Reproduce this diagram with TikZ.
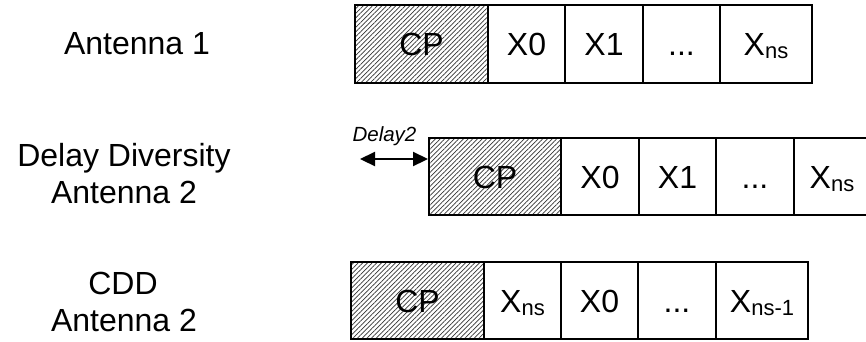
\documentclass[tikz,border=0pt]{standalone}
\usepackage{fontspec}
\setmainfont{Liberation Sans}
\usetikzlibrary{patterns.meta,arrows.meta}
% lowered, smaller subscript set in text font
\newcommand\subidx[1]{\raisebox{-3pt}{\fontsize{22}{24}\selectfont #1}}
\begin{document}
\begin{tikzpicture}[x=1pt,y=-1pt,
  cell/.style={draw=black, line width=1.6pt, rectangle, anchor=north west,
    inner sep=0pt, outer sep=0pt, minimum height=78pt,
    text height=23pt, text depth=0pt, font=\fontsize{32}{36}\selectfont},
  cpcell/.style={cell, pattern={Lines[angle=45,distance=3.3pt,line width=0.7pt]},
    pattern color=black!80},
  lbl/.style={font=\fontsize{32}{37}\selectfont, anchor=base, inner sep=0pt},
  dly/.style={font=\fontsize{20.5}{22}\selectfont\itshape, anchor=base, inner sep=0pt},
  span/.style={line width=2.2pt, >={Triangle[length=15pt,width=14pt]}, <->},
]
\clip (0,0) rectangle (866,341);

% row labels
\node[lbl] (l1)  at (137,54.5)  {Antenna 1};
\node[lbl] (l2a) at (124,166.5) {Delay Diversity};
\node[lbl] (l2b) at (124,203.5) {Antenna 2};
\node[lbl] (l3a) at (123,294.5) {CDD};
\node[lbl] (l3b) at (124,331.5) {Antenna 2};

% Antenna 1 symbol
\node[cpcell, minimum width=133pt] (a1cp) at (355,5) {CP};
\node[cell, minimum width=77pt] (a1x0) at (488,5) {X0};
\node[cell, minimum width=78pt] (a1x1) at (565,5) {X1};
\node[cell, minimum width=77pt] (a1dt) at (643,5) {...};
\node[cell, minimum width=92pt] (a1xn) at (720,5) {X\subidx{ns}};

% delay diversity, antenna 2
\node[cpcell, minimum width=132pt, minimum height=77pt] (a2cp) at (429,138) {CP};
\node[cell, minimum width=78pt, minimum height=77pt] (a2x0) at (561,138) {X0};
\node[cell, minimum width=77pt, minimum height=77pt] (a2x1) at (639,138) {X1};
\node[cell, minimum width=78pt, minimum height=77pt] (a2dt) at (716,138) {...};
\node[cell, minimum width=76pt, minimum height=77pt] (a2xn) at (794,138) {X\subidx{ns}};

% delay marker
\node[dly] (dlab) at (384.5,141) {Delay2};
\coordinate (dl) at (360,159);
\coordinate (dr) at (428,159);
\draw[span] (dl) -- (dr);

% cyclic delay diversity, antenna 2
\node[cpcell, minimum width=133pt, minimum height=77pt] (a3cp) at (351,262) {CP};
\node[cell, minimum width=77pt, minimum height=77pt] (a3xn) at (484,262) {X\subidx{ns}};
\node[cell, minimum width=77pt, minimum height=77pt] (a3x0) at (561,262) {X0};
\node[cell, minimum width=78pt, minimum height=77pt] (a3dt) at (638,262) {...};
\node[cell, minimum width=92pt, minimum height=77pt] (a3xm) at (716,262) {X\subidx{ns-1}};
\end{tikzpicture}
\end{document}
